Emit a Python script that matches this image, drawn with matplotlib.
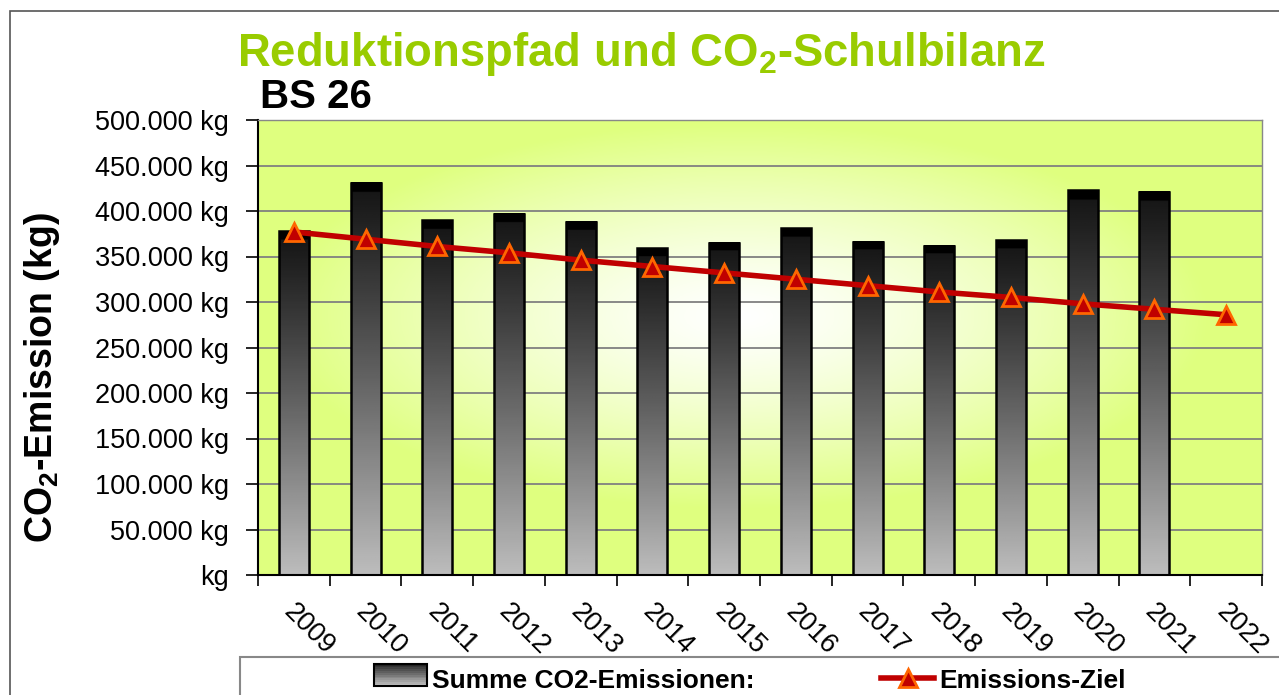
import matplotlib
matplotlib.use("Agg")
import matplotlib.pyplot as plt
import matplotlib.transforms as mtransforms
import numpy as np
from matplotlib.patches import Rectangle
from matplotlib.lines import Line2D
from matplotlib.legend_handler import HandlerBase

plt.rcParams['font.family'] = ['Liberation Sans', 'DejaVu Sans']
plt.rcParams['mathtext.fontset'] = 'custom'
plt.rcParams['mathtext.rm'] = 'Liberation Sans:bold'
plt.rcParams['mathtext.bf'] = 'Liberation Sans:bold'
plt.rcParams['mathtext.default'] = 'bf'

# data (kg)
jahre = ['2009', '2010', '2011', '2012', '2013', '2014', '2015',
         '2016', '2017', '2018', '2019', '2020', '2021', '2022']
emissionen = [378000, 431000, 390000, 397000, 388000, 359000, 365000,
              381000, 366000, 362000, 368000, 423000, 421000]
ziel = [377000, 369000, 361000, 354000, 346000, 339000, 332000,
        325000, 318000, 311000, 305000, 298000, 292000, 286000]

fig = plt.figure(figsize=(12.79, 6.95), dpi=100)
ax = fig.add_axes([258/1279, 120/695, 1004/1279, 455/695])

x = np.arange(len(jahre))
ymax = 500000

# background: green edges fading to white in the middle
gx, gy = np.meshgrid(np.linspace(0, 1, 300), np.linspace(1, 0, 300))
d = np.sqrt(((gx - 0.48) / 0.55) ** 2 + ((gy - 0.57) / 0.5) ** 2)
t = np.clip(d / 0.85, 0, 1) ** 1.3
green = np.array([0.875, 1.0, 0.5])
bg = (1 - t)[..., None] * np.array([1, 1, 1]) + t[..., None] * green
ax.imshow(bg, extent=[-0.5, len(jahre) - 0.5, 0, ymax], aspect='auto', zorder=0)

# bars with dark-to-light gradient
bw = 0.42
bars = ax.bar(x[:len(emissionen)], emissionen, width=bw, facecolor='none',
              edgecolor='black', linewidth=1.8, zorder=3)
for b, h in zip(bars, emissionen):
    vals = np.linspace(h, 0, 200)
    shade = 0.08 + 0.66 * (1 - vals / h) ** 1.1
    shade[vals > h - 9000] = 0.0
    img = np.repeat(shade[:, None], 2, axis=1)
    ax.imshow(img, cmap='gray', vmin=0, vmax=1,
              extent=[b.get_x(), b.get_x() + bw, 0, h], aspect='auto', zorder=2)

ax.plot(x, ziel, color='#c00000', lw=4, marker='^', ms=13,
        mfc='#c00000', mec='#ff6600', mew=2, zorder=4)

ax.set_xlim(-0.5, len(jahre) - 0.5)
ax.set_ylim(0, ymax)

yt = np.arange(0, ymax + 1, 50000)
ax.set_yticks(yt)
ax.set_yticklabels(['kg' if v == 0 else f"{v:,.0f}".replace(',', '.') + ' kg' for v in yt],
                   fontsize=19.5)
ax.tick_params(axis='y', length=9, width=1.2, pad=12, direction='out')
ax.yaxis.grid(True, color='#808080', lw=1.3, zorder=1)
ax.set_axisbelow(True)

ax.set_xticks(x)
ax.set_xticklabels(jahre, rotation=-45, ha='left', va='center',
                   rotation_mode='anchor', fontsize=19.5)
ax.set_xticks(np.arange(len(jahre) + 1) - 0.5, minor=True)
ax.tick_params(axis='x', which='major', length=0, pad=24)
ax.tick_params(axis='x', which='minor', length=8, width=1.2, direction='out')
shift = mtransforms.ScaledTranslation(-6/100, 0, fig.dpi_scale_trans)
for lab in ax.get_xticklabels():
    lab.set_transform(lab.get_transform() + shift)

for s in ['left', 'bottom']:
    ax.spines[s].set_color('black')
    ax.spines[s].set_linewidth(1.5)
for s in ['top', 'right']:
    ax.spines[s].set_color('#888888')
    ax.spines[s].set_linewidth(1)

# titles and axis label
fig.text(641/1279, 1 - 66/695, 'Reduktionspfad und CO$_2$-Schulbilanz',
         ha='center', va='baseline', fontsize=32.8, fontweight='bold', color='#99cc00')
fig.text(260/1279, 1 - 108/695, 'BS 26', ha='left', va='baseline',
         fontsize=29, fontweight='bold', color='black')
fig.text(42/1279, 1 - 378/695, 'CO$_2$-Emission (kg)', rotation=90,
         ha='center', va='center', fontsize=27, fontweight='bold')

# frames
fig.add_artist(Rectangle((10/1279, -0.1), 2, 1 - 11/695 + 0.1, transform=fig.transFigure,
                         fc='none', ec='#555555', lw=1.2, zorder=-1))
fig.add_artist(Rectangle((240/1279, -0.1), 2, (695 - 657)/695 + 0.1, transform=fig.transFigure,
                         fc='white', ec='#888888', lw=1.5, zorder=5))


class GradientHandler(HandlerBase):
    def create_artists(self, legend, orig, xd, yd, w, h, fontsize, trans):
        arts = []
        n = 12
        for i in range(n):
            c = 0.15 + 0.6 * i / (n - 1)
            arts.append(Rectangle((xd, yd + h * (n - 1 - i) / n), w, h / n,
                                  fc=str(c), ec='none', transform=trans))
        arts.append(Rectangle((xd, yd), w, h, fc='none', ec='black', lw=1.5, transform=trans))
        return arts


h_bar = Rectangle((0, 0), 1, 1)
h_line = Line2D([], [], color='#c00000', lw=4, marker='^', ms=13,
                mfc='#c00000', mec='#ff6600', mew=2)
leg = fig.legend([h_bar, h_line], ['Summe CO2-Emissionen:', 'Emissions-Ziel'],
                 handler_map={Rectangle: GradientHandler()},
                 loc='center left', bbox_to_anchor=(374/1279, 15/695), ncol=2,
                 frameon=False, borderpad=0, borderaxespad=0, handletextpad=0.2,
                 handlelength=2.0, handleheight=0.9, columnspacing=4.8,
                 prop={'weight': 'bold', 'size': 19})
leg.set_zorder(6)

fig.savefig('out.png', dpi=100)
